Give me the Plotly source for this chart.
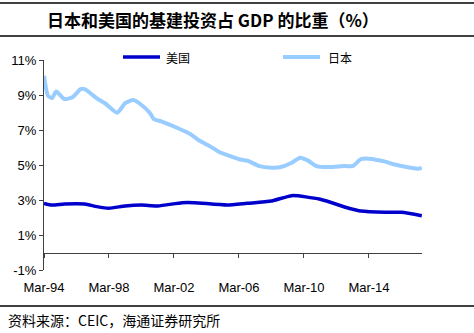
import plotly.graph_objects as go

# ---- data ----
jp_dates = ["1994-03-01","1994-06-01","1994-09-01","1994-12-01","1995-06-01","1995-12-01",
            "1996-06-01","1996-09-01","1997-06-01","1997-12-01","1998-09-01","1999-03-01",
            "1999-09-01","2000-03-01","2000-09-01","2000-12-01","2001-06-01","2002-06-01",
            "2003-03-01","2003-09-01","2004-06-01","2004-12-01","2006-03-01","2006-09-01",
            "2007-06-01","2008-03-01","2008-09-01","2009-06-01","2009-12-01","2010-06-01",
            "2010-12-01","2011-09-01","2012-09-01","2013-03-01","2013-09-01","2014-03-01",
            "2015-03-01","2015-09-01","2016-03-01","2017-03-01","2017-06-01"]
jp_values = [10.1, 8.95, 8.83, 9.2, 8.77, 8.87,
             9.33, 9.33, 8.81, 8.53, 7.99, 8.53,
             8.71, 8.43, 7.99, 7.63, 7.48, 7.10,
             6.77, 6.43, 6.05, 5.76, 5.33, 5.25,
             4.94, 4.85, 4.87, 5.13, 5.42, 5.25,
             4.94, 4.88, 4.94, 4.94, 5.33, 5.36,
             5.19, 5.04, 4.94, 4.79, 4.83]

us_dates = ["1994-03-01","1994-09-01","1995-06-01","1996-09-01","1997-06-01","1998-03-01",
            "1999-03-01","2000-03-01","2001-03-01","2002-09-01","2003-06-01","2005-06-01",
            "2006-09-01","2008-03-01","2009-06-01","2011-03-01","2012-12-01","2013-09-01",
            "2015-03-01","2016-03-01","2017-06-01"]
us_values = [2.81, 2.71, 2.77, 2.77, 2.62, 2.53,
             2.66, 2.71, 2.66, 2.85, 2.85, 2.71,
             2.81, 2.94, 3.25, 3.04, 2.53, 2.37,
             2.30, 2.30, 2.10]

y_ticks = [-1, 1, 3, 5, 7, 9, 11]
y_tick_labels = ["-1%", "1%", "3%", "5%", "7%", "9%", "11%"]
x_ticks = ["1994-03-01", "1998-03-01", "2002-03-01", "2006-03-01", "2010-03-01", "2014-03-01"]
x_tick_labels = ["Mar-94", "Mar-98", "Mar-02", "Mar-06", "Mar-10", "Mar-14"]

title_text = "日本和美国的基建投资占 GDP 的比重（%）"
source_text = "资料来源：CEIC，海通证券研究所"
series_names = ["美国", "日本"]

US_COLOR = "#0000CC"
JP_COLOR = "#99CCFF"
AXIS_COLOR = "#404040"

W, H = 474, 333
L, R, T, B = 44, 52, 60, 63
pw = W - L - R
ph = H - T - B

def px_x(x):
    return (x - L) / pw

def px_y(y):
    return (H - B - y) / ph

fig = go.Figure()
fig.add_trace(go.Scatter(x=jp_dates, y=jp_values, mode="lines", name=series_names[1],
                         line=dict(color=JP_COLOR, width=4, shape="spline", smoothing=0.6),
                         showlegend=False))
fig.add_trace(go.Scatter(x=us_dates, y=us_values, mode="lines", name=series_names[0],
                         line=dict(color=US_COLOR, width=3.5, shape="spline", smoothing=0.6),
                         showlegend=False))

shapes = []
# horizontal rules
for yy in [3, 36, 306]:
    shapes.append(dict(type="line", xref="paper", yref="paper",
                       x0=px_x(0), x1=px_x(W), y0=px_y(yy), y1=px_y(yy),
                       line=dict(color="black", width=1.5)))
# custom legend
leg = [(123, 160, US_COLOR, 3.5, 164, series_names[0]),
       (283, 320, JP_COLOR, 4, 326, series_names[1])]
annotations = []
for x0, x1, c, w, tx, name in leg:
    shapes.append(dict(type="line", xref="paper", yref="paper",
                       x0=px_x(x0), x1=px_x(x1), y0=px_y(57), y1=px_y(57),
                       line=dict(color=c, width=w)))
    annotations.append(dict(text=name, xref="paper", yref="paper", x=px_x(tx), y=px_y(57),
                            xanchor="left", yanchor="middle", showarrow=False,
                            font=dict(family="Noto Sans CJK SC", size=12, color="black")))

annotations.append(dict(text="<b>" + title_text + "</b>", xref="paper", yref="paper",
                        x=px_x(213), y=px_y(19), xanchor="center", yanchor="middle",
                        showarrow=False,
                        font=dict(family="Noto Sans CJK SC", size=17, color="black")))
annotations.append(dict(text=source_text, xref="paper", yref="paper",
                        x=px_x(6), y=px_y(320), xanchor="left", yanchor="middle",
                        showarrow=False,
                        font=dict(family="Noto Sans CJK SC", size=14, color="black")))

fig.update_layout(
    width=W, height=H,
    margin=dict(l=L, r=R, t=T, b=B),
    paper_bgcolor="white", plot_bgcolor="white",
    shapes=shapes, annotations=annotations,
    font=dict(family="Liberation Sans, Arial", size=12, color="black"),
    xaxis=dict(type="date", range=["1994-03-01", "2017-06-05"],
               tickvals=x_ticks, ticktext=x_tick_labels,
               showgrid=False, zeroline=False,
               showline=True, linecolor=AXIS_COLOR, linewidth=1,
               ticks="outside", ticklen=4, tickcolor=AXIS_COLOR,
               anchor="free", position=1/12, ticklabelstandoff=19,
               tickfont=dict(family="Liberation Sans, Arial", size=13)),
    yaxis=dict(range=[-1, 11], tickvals=y_ticks, ticktext=y_tick_labels,
               showgrid=False, zeroline=False,
               showline=True, linecolor=AXIS_COLOR, linewidth=1,
               ticks="outside", ticklen=4, tickcolor=AXIS_COLOR,
               tickfont=dict(family="Liberation Sans, Arial", size=13)),
)

fig.write_html("out.html")
